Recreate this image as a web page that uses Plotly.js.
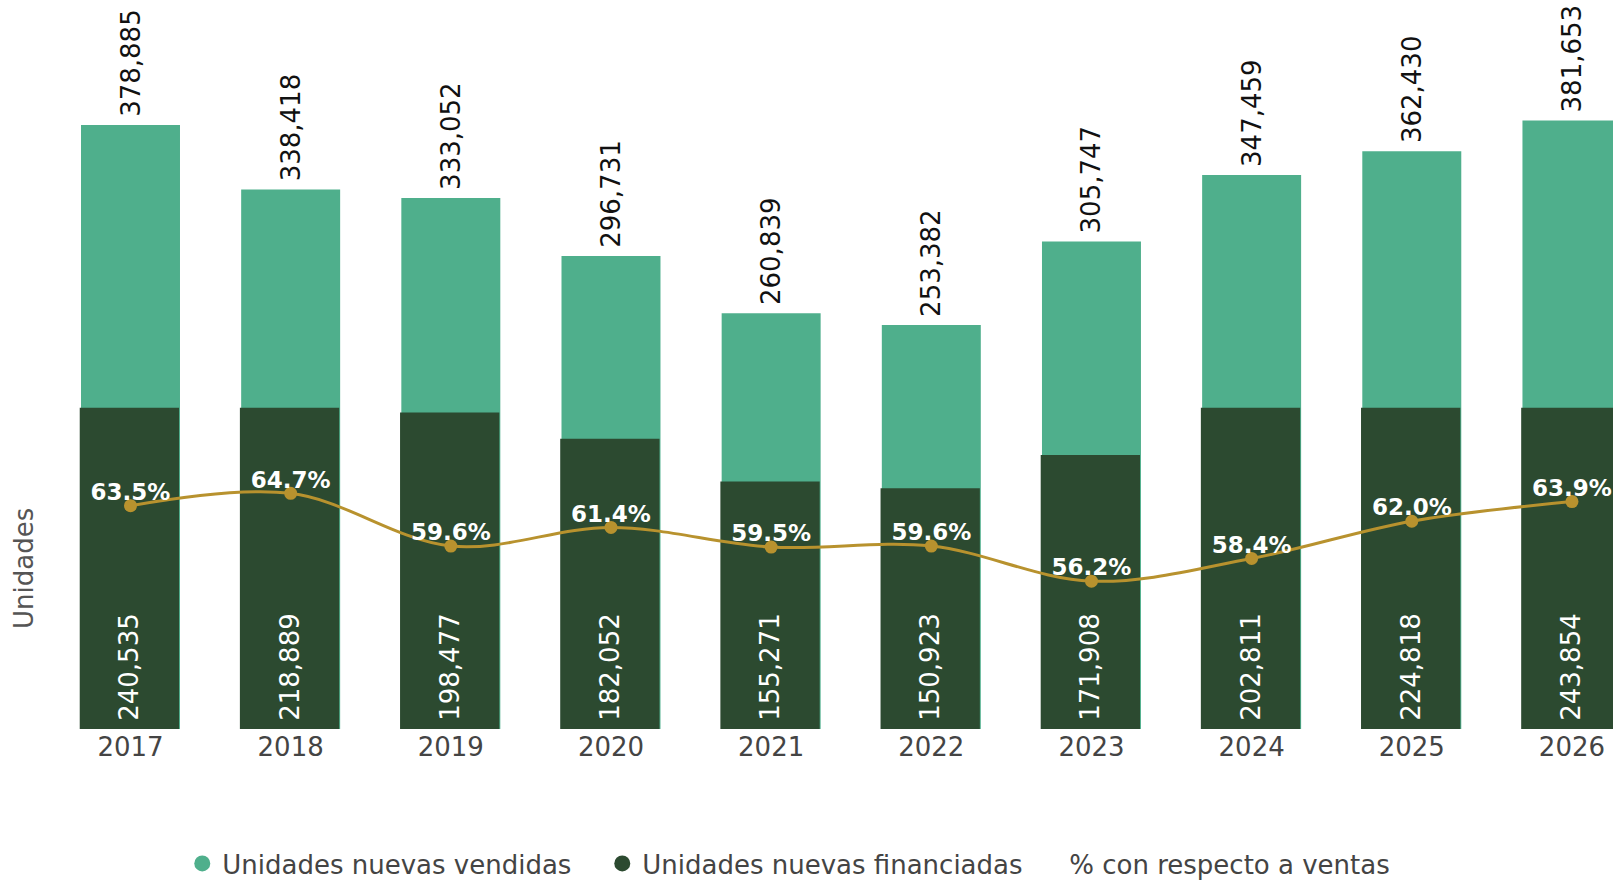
<!DOCTYPE html>
<html>
<head>
<meta charset="utf-8">
<script src="https://cdn.plot.ly/plotly-3.0.1.min.js"></script>
<style>
  html, body { margin: 0; padding: 0; background: #ffffff; overflow: hidden; }
  #chart { width: 1613px; height: 882px; }
</style>
</head>
<body>
<div id="chart"></div>
<script>
const years = ["2017", "2018", "2019", "2020", "2021", "2022", "2023", "2024", "2025", "2026"];
const vendidas = [378885, 338418, 333052, 296731, 260839, 253382, 305747, 347459, 362430, 381653];
const financiadas = [240535, 218889, 198477, 182052, 155271, 150923, 171908, 202811, 224818, 243854];
const porcentaje = [63.5, 64.7, 59.6, 61.4, 59.5, 59.6, 56.2, 58.4, 62.0, 63.9];

const nameVendidas = "Unidades nuevas vendidas";
const nameFinanciadas = "Unidades nuevas financiadas";
const namePorcentaje = "% con respecto a ventas";

const cLight = "#4faf8c";
const cDark = "#2c4a30";
const cGold = "#b8922e";
const FONT = "'DejaVu Sans', sans-serif";

const traces = [
  {
    type: "bar", name: nameVendidas, x: years, y: vendidas,
    xaxis: "x", yaxis: "y",
    width: 0.618, offset: -0.309,
    marker: { color: cLight },
    texttemplate: "\u2009%{y:,}", textposition: "outside", textangle: -90,
    textfont: { family: FONT, size: 26, color: "#111111" },
    constraintext: "none",
    cliponaxis: false, showlegend: false, hoverinfo: "skip"
  },
  {
    type: "bar", name: nameFinanciadas, x: years, y: financiadas,
    xaxis: "x", yaxis: "y2",
    width: 0.62, offset: -0.317,
    marker: { color: cDark },
    texttemplate: "\u2009%{y:,}", textposition: "inside", insidetextanchor: "start", textangle: -90,
    insidetextfont: { family: FONT, size: 26, color: "#ffffff" },
    constraintext: "none",
    showlegend: false, hoverinfo: "skip"
  },
  {
    type: "scatter", name: namePorcentaje, x: years, y: porcentaje,
    xaxis: "x", yaxis: "y3",
    mode: "lines+markers",
    line: { color: cGold, width: 3, shape: "spline" },
    marker: { color: cGold, size: 13 },
    showlegend: false, hoverinfo: "skip"
  },
  {
    type: "scatter", name: namePorcentaje, x: years, y: porcentaje,
    xaxis: "x", yaxis: "y3",
    mode: "text",
    texttemplate: "%{y:.1f}%", textposition: "top center",
    textfont: { family: FONT, size: 23, color: "#ffffff", weight: 700 },
    cliponaxis: false, showlegend: false, hoverinfo: "skip"
  },
  // legend entries
  { type: "scatter", name: nameVendidas, x: [null], y: [null], xaxis: "x", yaxis: "y",
    mode: "markers", marker: { color: cLight, size: 16 }, legendwidth: 375, hoverinfo: "skip" },
  { type: "scatter", name: nameFinanciadas, x: [null], y: [null], xaxis: "x", yaxis: "y",
    mode: "markers", marker: { color: cDark, size: 16 }, legendwidth: 382, hoverinfo: "skip" },
  { type: "scatter", name: namePorcentaje, x: [null], y: [null], xaxis: "x", yaxis: "y",
    mode: "lines", line: { color: "rgba(0,0,0,0)", width: 0 }, hoverinfo: "skip" }
];

const layout = {
  width: 1613, height: 882,
  margin: { l: 60, r: 0, t: 0, b: 153 },
  paper_bgcolor: "#ffffff", plot_bgcolor: "rgba(0,0,0,0)",
  font: { family: FONT, color: "#444444" },
  xaxis: {
    type: "category", range: [-0.4402, 9.2563],
    showgrid: false, zeroline: false, showline: false, ticks: "",
    tickfont: { family: FONT, size: 26, color: "#444444" },
    anchor: "y", fixedrange: true
  },
  yaxis: {
    range: [0, 457311], visible: false, domain: [0, 1], fixedrange: true
  },
  yaxis2: {
    range: [0, 201500], domain: [0, 0.4407], anchor: "x",
    showgrid: false, zeroline: false, showline: false, showticklabels: false, ticks: "",
    title: { text: "Unidades", font: { family: FONT, size: 26, color: "#555555" }, standoff: 17 },
    fixedrange: true
  },
  yaxis3: {
    range: [41.90, 72.98], overlaying: "y2", anchor: "x", visible: false, fixedrange: true
  },
  showlegend: true,
  legend: {
    orientation: "h", xref: "container", yref: "container",
    x: 0.113, xanchor: "left", y: 0.021, yanchor: "middle",
    font: { family: FONT, size: 26, color: "#444444" },
    bgcolor: "rgba(0,0,0,0)"
  }
};

Plotly.newPlot("chart", traces, layout, { displayModeBar: false, staticPlot: true });
</script>
</body>
</html>
